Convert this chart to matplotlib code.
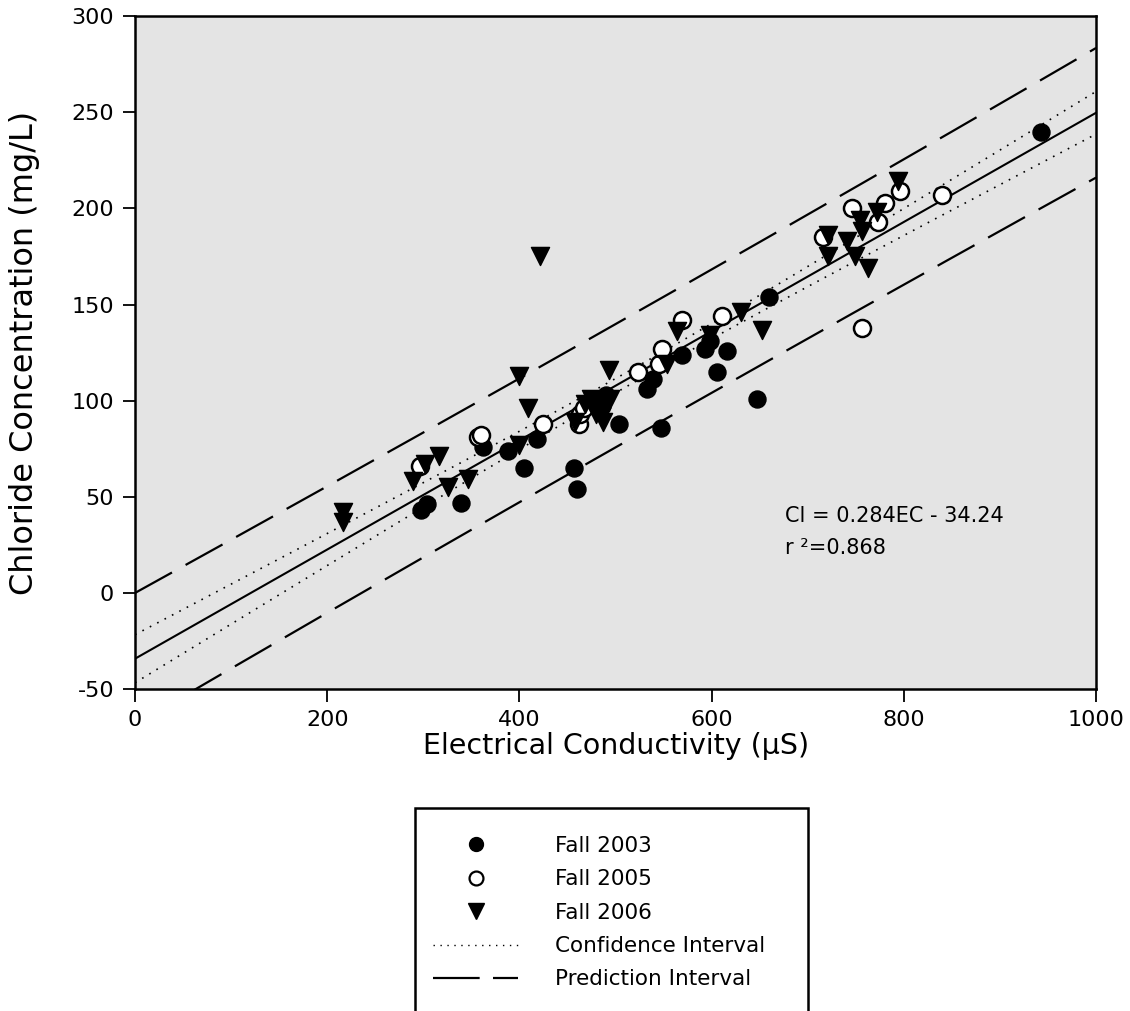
import numpy as np
import matplotlib
matplotlib.use("Agg")
import matplotlib.pyplot as plt
from matplotlib.lines import Line2D
from matplotlib.patches import Rectangle

plt.rcParams['font.family'] = ['DejaVu Sans']
plt.rcParams['axes.unicode_minus'] = False

# Fall 2003 (filled circles)
ec_2003 = [298, 304, 339, 362, 388, 405, 418, 457, 460, 480, 486, 490, 504,
           533, 539, 547, 569, 593, 598, 606, 616, 647, 660, 943]
cl_2003 = [43, 46, 47, 76, 74, 65, 80, 65, 54, 100, 97, 103, 88,
           106, 111, 86, 124, 127, 131, 115, 126, 101, 154, 240]

# Fall 2005 (open circles)
ec_2005 = [297, 357, 360, 424, 462, 463, 467, 523, 545, 548, 569, 611,
           716, 746, 756, 773, 780, 796, 840]
cl_2005 = [66, 81, 82, 88, 88, 93, 96, 115, 119, 127, 142, 144,
           185, 200, 138, 193, 203, 209, 207]

# Fall 2006 (triangles)
ec_2006 = [216, 216, 289, 302, 316, 326, 346, 400, 400, 409, 421, 458, 468,
           474, 480, 484, 487, 494, 493, 553, 564, 598, 631, 652, 721, 721,
           741, 749, 754, 756, 763, 772, 794]
cl_2006 = [42, 37, 58, 67, 71, 55, 59, 113, 77, 96, 175, 89, 98,
           101, 93, 94, 89, 101, 116, 119, 136, 134, 146, 137, 186, 175,
           183, 175, 194, 188, 169, 198, 214]

# regression: Cl = 0.284 EC - 34.24, standard error of estimate ~16
slope, intercept = 0.284, -34.24
s_est = 16.0
t = 1.99

x_all = np.array(ec_2003 + ec_2005 + ec_2006, dtype=float)
n = len(x_all)
xbar = x_all.mean()
sxx = ((x_all - xbar) ** 2).sum()

xs = np.linspace(0, 1000, 200)
fit = slope * xs + intercept
ci = t * s_est * np.sqrt(1 / n + (xs - xbar) ** 2 / sxx)
pi = t * s_est * np.sqrt(1 + 1 / n + (xs - xbar) ** 2 / sxx)

fig = plt.figure(figsize=(11.3, 10.11), dpi=100)
ax = fig.add_axes([0.1195, 0.3185, 0.8505, 0.6655])
ax.set_facecolor('#e4e4e4')

dot = (0, (1, 4))
dash = (0, (19, 7))
ax.plot(xs, fit, color='black', lw=1.5)
ax.plot(xs, fit + ci, color='black', lw=1.2, ls=dot)
ax.plot(xs, fit - ci, color='black', lw=1.2, ls=dot)
ax.plot(xs, fit + pi, color='black', lw=1.6, ls=dash)
ax.plot(xs, fit - pi, color='black', lw=1.6, ls=dash)

ax.scatter(ec_2003, cl_2003, s=150, marker='o', c='black', zorder=3)
ax.scatter(ec_2005, cl_2005, s=150, marker='o', facecolors='white',
           edgecolors='black', linewidths=1.8, zorder=4)
ax.scatter(ec_2006, cl_2006, s=170, marker='v', c='black', zorder=5)

ax.set_xlim(0, 1000)
ax.set_ylim(-50, 300)
ax.set_xticks(range(0, 1001, 200))
ax.set_yticks(range(-50, 301, 50))
ax.tick_params(direction='out', length=9, width=1.3, labelsize=16, pad=6,
               top=False, right=False)
for sp in ax.spines.values():
    sp.set_linewidth(1.8)

ax.set_xlabel('Electrical Conductivity (µS)', fontsize=20.5)
ax.set_ylabel('Chloride Concentration (mg/L)', fontsize=23)
ax.xaxis.set_label_coords(0.5, -0.064)
ax.yaxis.set_label_coords(-0.099, 0.5)

ax.text(676, 40, 'Cl = 0.284EC - 34.24', fontsize=15, va='center')
ax.text(676, 23.5, 'r ²=0.868', fontsize=15, va='center')

# legend box runs off the bottom of the figure, as in the original
fig.patches.append(Rectangle((415 / 1130, -0.05), (808 - 415) / 1130,
                             1 - 808 / 1011 + 0.05, transform=fig.transFigure,
                             fill=False, edgecolor='black', lw=1.8))

handles = [
    Line2D([], [], ls='none', marker='o', color='black', markersize=10),
    Line2D([], [], ls='none', marker='o', markerfacecolor='white',
           markeredgecolor='black', markeredgewidth=1.6, markersize=10),
    Line2D([], [], ls='none', marker='v', color='black', markersize=11),
    Line2D([], [], color='black', lw=1.0, ls=(0, (1, 4))),
    Line2D([], [], color='black', lw=1.6, ls=(0, (21, 6))),
]
labels = ['Fall 2003', 'Fall 2005', 'Fall 2006', 'Confidence Interval',
          'Prediction Interval']
leg = fig.legend(handles, labels, loc='upper left',
                 bbox_to_anchor=(433 / 1130, 1 - 836 / 1011),
                 fontsize=15.5, frameon=False,
                 handlelength=3.95, handletextpad=1.72,
                 borderpad=0, borderaxespad=0, labelspacing=0.62)

fig.savefig('out.png', dpi=100)
